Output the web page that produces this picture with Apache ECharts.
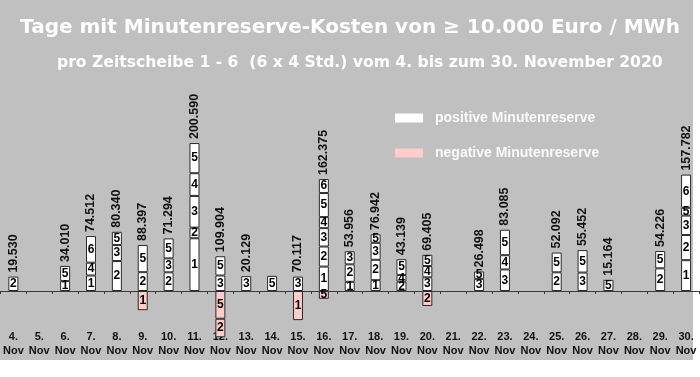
<!DOCTYPE html>
<html>
	<head>
		<meta charset="UTF-8">
		<title>Minutenreserve November 2020</title>
		<style>
			html, body { margin: 0; padding: 0; background: #fff; }
			#bar-char { width: 700px; height: 377px; }
		</style>
	</head>
	<body>
		<div id="bar-char"></div>
		<script type="text/javascript" src="https://cdn.jsdelivr.net/npm/echarts@6/dist/echarts.min.js"></script>
		<script type="text/javascript">
			// Tage 4. bis 30. November
			var days = ['4.','5.','6.','7.','8.','9.','10.','11.','12.','13.','14.','15.','16.','17.','18.','19.','20.','21.','22.','23.','24.','25.','26.','27.','28.','29.','30.'];
			// positive Minutenreserve je Zeitscheibe (Tsd. Euro / MWh)
			var posSlice1 = [null,null,13.4,21.0,null,null,null,71.5,null,null,null,null,33.1,12.5,14.7,null,null,null,null,null,null,null,null,null,null,null,41.8];
			var posSlice2 = [19.53,null,null,null,40.6,25.5,25.3,14.4,null,null,null,null,27.2,23.6,27.6,12.7,null,null,null,null,null,25.3,null,null,null,30.7,34.1];
			var posSlice3 = [null,null,null,null,21.7,null,18.9,43.0,21.0,20.13,null,19.5,24.9,17.86,23.1,null,18.5,null,16.5,29.2,null,null,25.0,null,null,null,26.4];
			var posSlice4 = [null,null,null,17.4,null,null,null,30.8,null,null,null,null,15.0,null,null,9.1,15.3,null,null,19.3,null,null,null,null,null,null,null];
			var posSlice5 = [null,null,20.6,null,18.0,36.9,27.1,40.9,26.1,null,20.5,null,32.6,null,11.5,21.3,15.3,null,10.0,34.6,null,26.8,30.45,15.16,null,23.5,10.5];
			var posSlice6 = [null,null,null,36.1,null,null,null,null,null,null,null,null,19.0,null,null,null,null,null,null,null,null,null,null,null,null,null,45.0];
			// negative Minutenreserve je Zeitscheibe
			var negSlice5 = [null,null,null,null,null,null,null,null,-37.6,null,null,null,-10.6,null,null,null,null,null,null,null,null,null,null,null,null,null,null];
			var negSlice2 = [null,null,null,null,null,null,null,null,-25.2,null,null,null,null,null,null,null,-20.3,null,null,null,null,null,null,null,null,null,null];
			var negSlice1 = [null,null,null,null,null,-26.0,null,null,null,null,null,-39.5,null,null,null,null,null,null,null,null,null,null,null,null,null,null,null];
			// Summen ueber den Balken
			var totalLabels = ['19.530','','34.010','74.512','80.340','88.397','71.294','200.590','109.904','20.129','','70.117','162.375','53.956','76.942','43.139','69.405','','26.498','83.085','','52.092','55.452','15.164','','54.226','157.782'];

			var FONT = '"Liberation Sans", Arial, sans-serif';
			var WIDE = '"DejaVu Sans", sans-serif';

			function sliceSeries(name, data, color){
				return {
					name: name,
					type: 'bar',
					stack: 'tag',
					barWidth: 10,
					xAxisIndex: 0,
					data: data,
					itemStyle: {
						color: color,
						borderColor: '#2a2a2a',
						borderWidth: 1
					},
					label: {
						show: true,
						position: 'inside',
						formatter: name,
						color: '#000',
						fontSize: 12,
						fontWeight: 'bold',
						fontFamily: FONT
					}
				};
			}

			function minutenreserve(){
				var barChar = echarts.init(document.getElementById('bar-char'));
				var series = [
					sliceSeries('1', posSlice1, '#ffffff'),
					sliceSeries('2', posSlice2, '#ffffff'),
					sliceSeries('3', posSlice3, '#ffffff'),
					sliceSeries('4', posSlice4, '#ffffff'),
					sliceSeries('5', posSlice5, '#ffffff'),
					sliceSeries('6', posSlice6, '#ffffff'),
					{
						// Summe oben auf dem Stapel
						type: 'bar',
						stack: 'tag',
						barWidth: 10,
						silent: true,
						data: days.map(function(){ return 0; }),
						itemStyle: { color: 'rgba(0,0,0,0)', borderWidth: 0 },
						label: {
							show: true,
							position: 'top',
							rotate: 90,
							align: 'left',
							verticalAlign: 'middle',
							distance: 4,
							formatter: function(p){ return totalLabels[p.dataIndex]; },
							color: '#111',
							fontSize: 12.5,
							fontWeight: 'bold',
							fontFamily: FONT
						}
					},
					sliceSeries('5', negSlice5, '#ffcccc'),
					sliceSeries('2', negSlice2, '#ffcccc'),
					sliceSeries('1', negSlice1, '#ffcccc'),
					{ name: 'positive Minutenreserve', type: 'bar', stack: 'tag', data: [], itemStyle: { color: '#ffffff' } },
					{ name: 'negative Minutenreserve', type: 'bar', stack: 'tag', data: [], itemStyle: { color: '#ffcccc' } }
				];
				var options = {
					animation: false,
					graphic: [{
						type: 'rect',
						z: -10,
						shape: { x: 0, y: 0, width: 693, height: 360 },
						style: { fill: '#c0c0c0' }
					}],
					title: [{
						text: 'Tage mit Minutenreserve-Kosten von ≥ 10.000 Euro / MWh',
						left: 'center',
						top: 13,
						textStyle: { color: '#fdfdfd', fontSize: 20, fontWeight: 'bold', fontFamily: WIDE }
					}, {
						text: 'pro Zeitscheibe 1 - 6  (6 x 4 Std.) vom 4. bis zum 30. November 2020',
						left: 52,
						top: 50,
						textStyle: { color: '#fdfdfd', fontSize: 15.6, fontWeight: 'bold', fontFamily: WIDE }
					}],
					legend: {
						data: ['positive Minutenreserve', 'negative Minutenreserve'],
						orient: 'vertical',
						left: 390,
						top: 106,
						itemWidth: 28,
						itemHeight: 9,
						itemGap: 21,
						icon: 'rect',
						itemStyle: { borderWidth: 0 },
						textStyle: { color: '#fafafa', fontSize: 14, fontWeight: 'bold', fontFamily: FONT, padding: [0, 0, 0, 7] }
					},
					grid: {
						left: 0,
						right: 1,
						top: 114,
						bottom: 27
					},
					xAxis: [{
						type: 'category',
						data: days,
						position: 'bottom',
						axisLine: { onZero: true, lineStyle: { color: '#3a3a3a', width: 1 } },
						axisTick: { show: true, length: 3, lineStyle: { color: '#3a3a3a' } },
						axisLabel: { show: false },
						splitLine: { show: false }
					}, {
						type: 'category',
						data: days,
						position: 'bottom',
						offset: -25,
						axisLine: { show: false },
						axisTick: { show: false },
						axisLabel: {
							interval: 0,
							margin: 5,
							formatter: function(v){ return v + '\nNov'; },
							color: '#111',
							fontSize: 11,
							fontWeight: 'bold',
							lineHeight: 14,
							fontFamily: FONT
						}
					}],
					yAxis: {
						type: 'value',
						min: -80,
						max: 240,
						show: false,
						splitLine: { show: false }
					},
					series: series
				};
				barChar.setOption(options);
			}
			minutenreserve();
		</script>
	</body>
</html>
